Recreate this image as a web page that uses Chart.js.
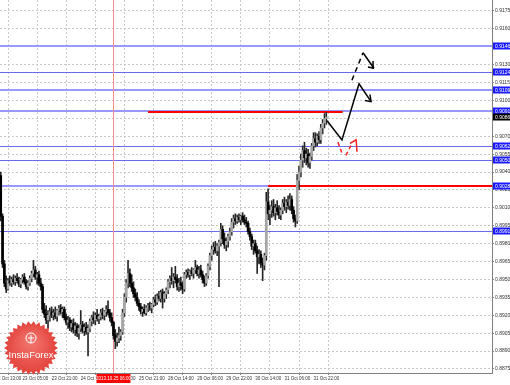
<!DOCTYPE html>
<html>
<head>
<meta charset="utf-8">
<script src="https://cdn.jsdelivr.net/npm/chart.js@4/dist/chart.umd.min.js"></script>
<style>
body{margin:0;background:#fff;}
canvas{display:block;}
</style>
</head>
<body>
<canvas id="grafica" width="510" height="385"></canvas>
<script>
//velas H1, la primera barra es la -12
const primeraBarra=-12;
const aperturas=[.9037,.9003,.8963,.8947,.8942,.8949,.8947,.8950,.8948,.8951,.8949,.8946,
.8950,.8952,.8948,.8944,.8947,.8951,.8955,.8958,.8952,.8954,
.8947,.8944,.8925,.8921,.8916,.8920,.8923,.8920,.8922,.8919,
.8924,.8926,.8923,.8925,.8918,.8914,.8916,.8910,.8913,.8908,
.8911,.8905,.8909,.8912,.8907,.8910,.8906,.8909,.8915,.8918,
.8916,.8920,.8917,.8919,.8922,.8920,.8923,.8925,.8922,.8918,
.8914,.8903,.8898,.8901,.8903,.8906,.8922,.8935,.8947,.8955,
.8947,.8943,.8938,.8935,.8930,.8927,.8923,.8925,.8922,.8926,
.8928,.8926,.8929,.8933,.8931,.8936,.8934,.8939,.8934,.8938,
.8941,.8948,.8951,.8949,.8952,.8950,.8944,.8947,.8945,.8942,
.8954,.8956,.8954,.8957,.8955,.8958,.8960,.8955,.8958,.8954,
.8950,.8947,.8953,.8961,.8970,.8975,.8977,.8974,.8978,.8981,
.8992,.8984,.8979,.8982,.8986,.8990,.8998,.9001,.8999,.9002,
.9000,.9003,.9000,.8998,.8997,.8990,.8986,.8978,.8980,.8974,
.8969,.8971,.8964,.8962,.8970,.9015,.9005,.9008,.9011,.9006,
.9010,.9007,.9004,.9008,.9014,.9011,.9015,.9012,.9017,.9008,
.9001,.8999,.9033,.9040,.9050,.9058,.9052,.9055,.9048,.9053,
.9062,.9068,.9065,.9070,.9067,.9077,.9081,.9085];
const maximos=[.9040,.9005,.8966,.8953,.8951,.8953,.8952,.8954,.8953,.8955,.8952,.8951,
.8954,.8955,.8950,.8949,.8953,.8957,.8966,.8961,.8956,.8957,
.8951,.8946,.8930,.8928,.8924,.8926,.8927,.8925,.8927,.8925,
.8928,.8929,.8927,.8927,.8921,.8919,.8918,.8916,.8917,.8914,
.8913,.8912,.8924,.8915,.8913,.8914,.8912,.8917,.8920,.8923,
.8922,.8925,.8921,.8925,.8926,.8924,.8928,.8932,.8925,.8922,
.8915,.8908,.8905,.8910,.8908,.8925,.8938,.8950,.8966,.8959,
.8954,.8948,.8942,.8939,.8933,.8930,.8927,.8929,.8928,.8930,
.8931,.8930,.8935,.8937,.8938,.8940,.8941,.8942,.8940,.8943,
.8950,.8953,.8960,.8955,.8961,.8954,.8951,.8952,.8948,.8956,
.8958,.8959,.8958,.8960,.8959,.8966,.8962,.8961,.8962,.8957,
.8953,.8955,.8963,.8972,.8978,.8981,.8982,.8980,.8983,.8997,
.8995,.8989,.8985,.8988,.8993,.9001,.9004,.9005,.9004,.9005,
.9004,.9006,.9004,.9002,.8999,.8993,.8988,.8983,.8983,.8978,
.8975,.8974,.8968,.8972,.9023,.9026,.9012,.9016,.9017,.9013,
.9016,.9012,.9010,.9017,.9019,.9017,.9020,.9022,.9020,.9011,
.9004,.9038,.9045,.9055,.9062,.9065,.9060,.9059,.9056,.9064,
.9073,.9073,.9072,.9074,.9080,.9084,.9089,.9090];
const minimos=[.8999,.8960,.8944,.8939,.8941,.8945,.8944,.8946,.8945,.8947,.8944,.8943,
.8947,.8946,.8942,.8941,.8945,.8948,.8952,.8950,.8946,.8945,
.8941,.8922,.8918,.8913,.8909,.8915,.8918,.8916,.8917,.8915,
.8920,.8921,.8918,.8916,.8912,.8909,.8907,.8906,.8905,.8903,
.8902,.8900,.8906,.8905,.8903,.8904,.8886,.8906,.8911,.8913,
.8912,.8915,.8913,.8916,.8917,.8916,.8919,.8920,.8915,.8911,
.8900,.8892,.8894,.8897,.8899,.8904,.8919,.8931,.8943,.8944,
.8940,.8935,.8932,.8928,.8924,.8921,.8919,.8921,.8920,.8923,
.8924,.8922,.8927,.8928,.8929,.8932,.8931,.8926,.8931,.8934,
.8938,.8943,.8946,.8943,.8947,.8941,.8940,.8941,.8938,.8940,
.8951,.8952,.8950,.8953,.8951,.8955,.8953,.8951,.8952,.8947,
.8944,.8945,.8951,.8958,.8966,.8971,.8972,.8970,.8944,.8978,
.8980,.8976,.8974,.8977,.8983,.8987,.8993,.8996,.8997,.8998,
.8996,.8998,.8996,.8994,.8988,.8983,.8975,.8971,.8972,.8955,
.8963,.8960,.8949,.8958,.8966,.9000,.8996,.9002,.9003,.9000,
.9004,.9001,.9000,.9005,.9008,.9006,.9009,.9008,.9005,.8998,
.8994,.8997,.9025,.9036,.9044,.9048,.9046,.9044,.9043,.9050,
.9058,.9061,.9062,.9064,.9064,.9072,.9077,.9080];
const cierres=[.9003,.8963,.8947,.8942,.8949,.8947,.8950,.8948,.8951,.8949,.8946,.8950,
.8952,.8948,.8944,.8947,.8951,.8955,.8958,.8952,.8954,.8947,
.8944,.8925,.8921,.8916,.8920,.8923,.8920,.8922,.8919,.8924,
.8926,.8923,.8925,.8918,.8914,.8916,.8910,.8913,.8908,.8911,
.8905,.8909,.8912,.8907,.8910,.8906,.8909,.8915,.8918,.8916,
.8920,.8917,.8919,.8922,.8920,.8923,.8925,.8922,.8918,.8914,
.8903,.8898,.8901,.8903,.8906,.8922,.8935,.8947,.8955,.8947,
.8943,.8938,.8935,.8930,.8927,.8923,.8925,.8922,.8926,.8928,
.8926,.8929,.8933,.8931,.8936,.8934,.8939,.8934,.8938,.8941,
.8948,.8951,.8949,.8952,.8950,.8944,.8947,.8945,.8942,.8954,
.8956,.8954,.8957,.8955,.8958,.8960,.8955,.8958,.8954,.8950,
.8947,.8953,.8961,.8970,.8975,.8977,.8974,.8978,.8981,.8992,
.8984,.8979,.8982,.8986,.8990,.8998,.9001,.8999,.9002,.9000,
.9003,.9000,.8998,.8997,.8990,.8986,.8978,.8980,.8974,.8969,
.8971,.8964,.8962,.8970,.9015,.9005,.9008,.9011,.9006,.9010,
.9007,.9004,.9008,.9014,.9011,.9015,.9012,.9017,.9008,.9001,
.8999,.9033,.9040,.9050,.9058,.9052,.9055,.9048,.9053,.9062,
.9068,.9065,.9070,.9067,.9077,.9081,.9085,.9086];

//eje x (barras)
const posicionesX=[-16,0,16,32,48,64,80,96,112,128,144,160];
const etiquetasX=['22 Oct 13:00','23 Oct 05:00','23 Oct 21:00','24 Oct 13:00','25 Oct 05:00','25 Oct 21:00','28 Oct 14:00','29 Oct 06:00','29 Oct 22:00','30 Oct 14:00','31 Oct 06:00','31 Oct 22:00'];
//eje y
const marcasY=[0.8875,0.8890,0.8905,0.8920,0.8935,0.8950,0.8965,0.8980,0.8995,0.9010,0.9025,0.9040,0.9055,0.9070,0.9085,0.9100,0.9115,0.9130,0.9145,0.9160,0.9175];

//niveles
const nivelesAzules=[0.9146,0.9124,0.9109,0.9091,0.9062,0.9050,0.9028,0.8991];
const nivelesGruesos=[0.9146,0.9109,0.9091,0.9028];
const precioActual=0.9086;
const rojaDesde=[69,135];
const rojaHasta=[176,262];
const rojaPrecio=[0.9090,0.9028];
const barraFecha=50;
const textoFecha='2013.10.25 06:00';

//trazos del pronostico
const trazoX=[167.4,175.6,185.0,191.6];
const trazoY=[0.9083,0.9067,0.9114,0.9099];
const puntaAbajoX=[188.3,191.6,191.0];
const puntaAbajoY=[0.9100,0.9099,0.9105];
const discontX=[181.1,187.2];
const discontY=[0.9117,0.9140];
const bajadaX=[187.2,193.2];
const bajadaY=[0.9140,0.9127];
const puntaArribaX=[189.9,193.2,192.7];
const puntaArribaY=[0.9128,0.9127,0.9133];
const rojo1X=[173.4,175.6];
const rojo1Y=[0.9065,0.9056];
const rojo2X=[177.8,181.1];
const rojo2Y=[0.9054,0.9064];
const puntaRojaX=[180.0,183.4,183.9];
const puntaRojaY=[0.9064,0.9067,0.9057];

const velas=[];
const cuerpos=[];
const colores=[];
for(let i=0;i<cierres.length;i++)
{
    velas.push({x:primeraBarra+i,y:[minimos[i],maximos[i]]});
    cuerpos.push({x:primeraBarra+i,y:[aperturas[i],cierres[i]]});
    colores.push(cierres[i]>=aperturas[i]?'#a6a6a6':'#000000');
}

function puntos(xs,ys){
    return xs.map((x,i)=>({x:x,y:ys[i]}));
}
function linea(xs,ys,color,dash){
    return {type:'line',data:puntos(xs,ys),borderColor:color,borderWidth:1.5,
        borderDash:dash||[],pointRadius:0,tension:0,order:1};
}

//lineas, etiquetas y logo
const marcas={
    id:'marcas',
    beforeDatasetsDraw(chart){
        const ctx=chart.ctx;
        const a=chart.chartArea;
        const x=chart.scales.x;
        const y=chart.scales.y;
        ctx.save();
        nivelesAzules.forEach(p=>{
            const grueso=nivelesGruesos.includes(p);
            const yy=Math.round(y.getPixelForValue(p))+(grueso?0:0.5);
            ctx.strokeStyle=grueso?'#9898ff':'#6a6af0';
            ctx.lineWidth=grueso?2:1;
            ctx.beginPath();ctx.moveTo(a.left,yy);ctx.lineTo(a.right,yy);ctx.stroke();
        });
        const xv=Math.round(x.getPixelForValue(barraFecha))+0.5;
        ctx.strokeStyle='#f08c8c';
        ctx.lineWidth=1;
        ctx.beginPath();ctx.moveTo(xv,a.top);ctx.lineTo(xv,a.bottom);ctx.stroke();
        ctx.strokeStyle='#ff0000';
        ctx.lineWidth=2;
        for(let i=0;i<rojaPrecio.length;i++)
        {
            const yy=Math.round(y.getPixelForValue(rojaPrecio[i]));
            ctx.beginPath();
            ctx.moveTo(x.getPixelForValue(rojaDesde[i]),yy);
            ctx.lineTo(Math.min(a.right,x.getPixelForValue(rojaHasta[i])),yy);
            ctx.stroke();
        }
        ctx.restore();
    },
    afterDraw(chart){
        const ctx=chart.ctx;
        const a=chart.chartArea;
        const x=chart.scales.x;
        const y=chart.scales.y;
        ctx.save();
        //etiquetas de precio
        ctx.font='5px "Liberation Sans"';
        ctx.textBaseline='middle';
        ctx.textAlign='left';
        const cajas=nivelesAzules.map(p=>({p:p,c:'#1a1aff'}));
        cajas.push({p:precioActual,c:'#000000'});
        cajas.forEach(k=>{
            const yy=Math.round(y.getPixelForValue(k.p));
            ctx.fillStyle=k.c;
            ctx.fillRect(a.right+1,yy-3.5,510-a.right-1,7);
            ctx.fillStyle='#ffffff';
            ctx.fillText(k.p.toFixed(4),a.right+3,yy+0.5);
        });
        //etiqueta recortada del eje x
        ctx.fillStyle='#333333';
        ctx.font='4.5px "Liberation Sans"';
        ctx.fillText(etiquetasX[0],x.getPixelForValue(posicionesX[0])+2,a.bottom+6);
        //fecha en rojo
        const xf=x.getPixelForValue(barraFecha);
        ctx.fillStyle='#ff0000';
        ctx.fillRect(xf-17,a.bottom+1,34,9);
        ctx.fillStyle='#ffffff';
        ctx.textAlign='center';
        ctx.fillText(textoFecha,xf,a.bottom+6);
        //logo
        const cx=31,cy=348,r1=27,r2=23.5,n=30;
        ctx.beginPath();
        for(let i=0;i<n*2;i++)
        {
            const r=i%2==0?r1:r2;
            const ang=Math.PI*i/n;
            ctx.lineTo(cx+r*Math.cos(ang),cy+r*Math.sin(ang));
        }
        ctx.closePath();
        const grad=ctx.createRadialGradient(cx,cy-8,2,cx,cy,r1);
        grad.addColorStop(0,'#f2766e');
        grad.addColorStop(1,'#e2403a');
        ctx.fillStyle=grad;
        ctx.fill();
        ctx.strokeStyle='#ffffff';
        ctx.lineWidth=1;
        ctx.beginPath();ctx.arc(cx,cy-10,5,0,Math.PI*2);ctx.stroke();
        ctx.beginPath();
        ctx.moveTo(cx,cy-13);ctx.lineTo(cx,cy-5);
        ctx.moveTo(cx-3,cy-10);ctx.lineTo(cx+3,cy-10);
        ctx.stroke();
        ctx.fillStyle='#ffffff';
        ctx.font='9.5px "Liberation Sans"';
        ctx.textAlign='center';
        ctx.fillText('InstaForex',cx,cy+7);
        ctx.restore();
    }
};

new Chart(document.getElementById('grafica'),{
    data:{
        datasets:[
            {type:'bar',data:velas,backgroundColor:'#262626',barThickness:1,grouped:false,order:3},
            {type:'bar',data:cuerpos,backgroundColor:colores,barThickness:2,minBarLength:1,grouped:false,order:2},
            linea(trazoX,trazoY,'#000000'),
            linea(puntaAbajoX,puntaAbajoY,'#000000'),
            linea(discontX,discontY,'#000000',[5,4]),
            linea(bajadaX,bajadaY,'#000000'),
            linea(puntaArribaX,puntaArribaY,'#000000'),
            linea(rojo1X,rojo1Y,'#ff2020',[4,3]),
            linea(rojo2X,rojo2Y,'#ff2020',[4,3]),
            linea(puntaRojaX,puntaRojaY,'#ff2020')
        ]
    },
    options:{
        responsive:false,
        animation:false,
        devicePixelRatio:1,
        layout:{padding:0},
        plugins:{legend:{display:false},tooltip:{enabled:false}},
        scales:{
            x:{
                type:'linear',
                min:-12.4,
                max:258.1,
                offset:false,
                grid:{color:'#c8c8c8',tickLength:2,tickColor:'#808080'},
                border:{color:'#808080',dash:[2,2]},
                afterBuildTicks:s=>{s.ticks=posicionesX.filter(v=>v>=s.min&&v<=s.max).map(v=>({value:v}));},
                afterFit:s=>{s.height=12;s.paddingLeft=0;s.paddingRight=0;},
                ticks:{
                    autoSkip:false,maxRotation:0,align:'start',padding:1,color:'#333333',
                    font:{family:'Liberation Sans',size:4.5},
                    callback:v=>etiquetasX[posicionesX.indexOf(v)]
                }
            },
            y:{
                position:'right',
                min:0.88716,
                max:0.91842,
                grid:{color:'#c8c8c8',tickLength:2,tickColor:'#808080'},
                border:{color:'#808080',dash:[2,2]},
                afterBuildTicks:s=>{s.ticks=marcasY.map(v=>({value:v}));},
                afterFit:s=>{s.width=18;s.paddingTop=0;s.paddingBottom=0;},
                ticks:{
                    padding:1,color:'#333333',
                    font:{family:'Liberation Sans',size:5},
                    callback:v=>v.toFixed(4)
                }
            }
        }
    },
    plugins:[marcas]
});
</script>
</body>
</html>
